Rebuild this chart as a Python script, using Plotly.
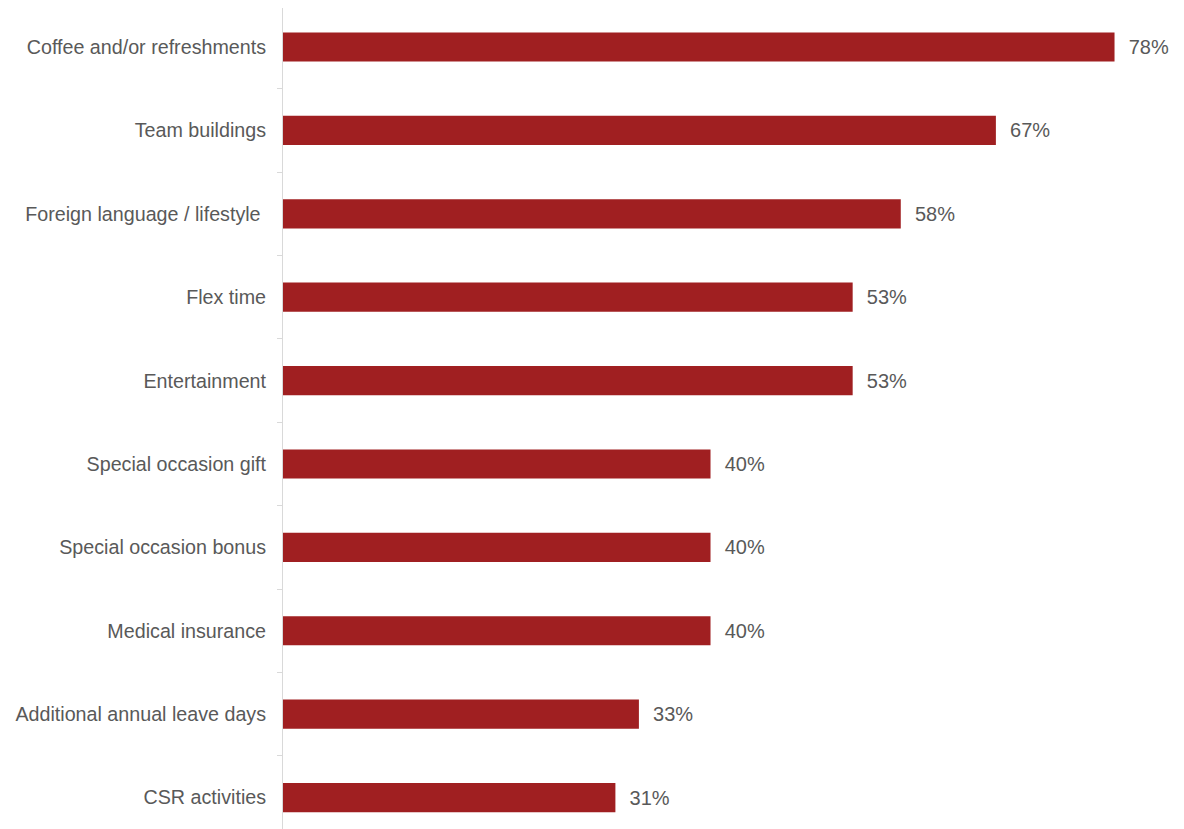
import plotly.graph_objects as go

categories = [
    "Coffee and/or refreshments",
    "Team buildings",
    "Foreign language / lifestyle\u00a0",
    "Flex time",
    "Entertainment",
    "Special occasion gift",
    "Special occasion bonus",
    "Medical insurance",
    "Additional annual leave days",
    "CSR activities",
]
values = [77.8, 66.7, 57.8, 53.3, 53.3, 40.0, 40.0, 40.0, 33.3, 31.1]
value_labels = ["78%", "67%", "58%", "53%", "53%", "40%", "40%", "40%", "33%", "31%"]

BAR = "#A01F21"
TXT = "#595959"
FONT = "Liberation Sans, Arial, sans-serif"

fig = go.Figure(go.Bar(
    x=values,
    y=categories,
    orientation="h",
    marker=dict(color=BAR, line=dict(width=0)),
    width=0.35,
    text=["  " + t for t in value_labels],
    textposition="outside",
    textfont=dict(family=FONT, size=20, color=TXT),
    cliponaxis=False,
    hoverinfo="skip",
))

fig.update_layout(
    width=1176,
    height=821,
    margin=dict(l=275, r=0, t=0, b=0),
    paper_bgcolor="white",
    plot_bgcolor="white",
    showlegend=False,
    font=dict(family=FONT, size=20, color=TXT),
    xaxis=dict(
        range=[0, 84.3],
        visible=False,
        showgrid=False,
        zeroline=False,
    ),
    yaxis=dict(
        type="category",
        categoryorder="array",
        categoryarray=categories,
        range=[9.377, -0.468],
        showline=True,
        linecolor="#D9D9D9",
        linewidth=1,
        ticks="outside",
        tickson="boundaries",
        ticklen=5,
        tickcolor="#D9D9D9",
        tickfont=dict(family=FONT, size=19.7, color=TXT),
        ticklabelstandoff=12,
        showgrid=False,
        zeroline=False,
    ),
)

fig.write_html("out.html")
